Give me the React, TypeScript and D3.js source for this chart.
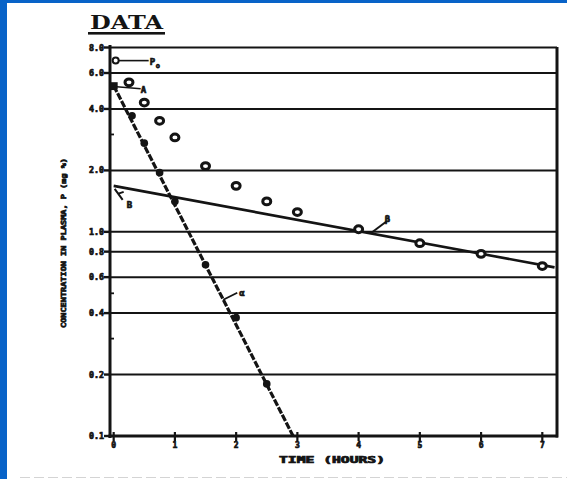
import React from 'react';
import * as d3 from 'd3';

// ---- data ----
const observedTimes = [0.25, 0.5, 0.75, 1, 1.5, 2, 2.5, 3, 4, 5, 6, 7];
const observedConc = [5.4, 4.3, 3.5, 2.9, 2.1, 1.68, 1.41, 1.25, 1.03, 0.88, 0.78, 0.68];
const residualTimes = [0.3, 0.5, 0.75, 1, 1.5, 2, 2.5];
const residualConc = [3.7, 2.72, 1.95, 1.41, 0.69, 0.38, 0.18];
const betaLineTimes = [0, 7.2];
const betaLineConc = [1.68, 0.67];
const alphaLineTimes = [0, 2.93];
const alphaLineConc = [5.2, 0.1];
const interceptP0 = 6.9;
const interceptA = 5.2;
const yTickValues = [8, 6, 4, 2, 1, 0.8, 0.6, 0.4, 0.2, 0.1];
const yTickLabels = ['8.0', '6.0', '4.0', '2.0', '1.0', '0.8', '0.6', '0.4', '0.2', '0.1'];
const yMinorTicks = [5, 3, 0.5, 0.3];
const xTickValues = [0, 1, 2, 3, 4, 5, 6, 7];
const xTickLabels = ['0', '1', '2', '3', '4', '5', '6', '7'];

const W = 567;
const H = 479;
const INK = '#141414';
const FONT = '"DejaVu Sans Mono", "Liberation Mono", monospace';

export default function App() {
  const x = d3.scaleLinear().domain([-0.06, 7.24]).range([110, 557]);
  const y = d3.scaleLog().domain([0.1, 8]).range([436, 47.5]);
  const line = d3
    .line<[number, number]>()
    .x((d) => x(d[0]))
    .y((d) => y(d[1]));

  const betaPts: [number, number][] = betaLineTimes.map((t, i) => [t, betaLineConc[i]]);
  const alphaPts: [number, number][] = alphaLineTimes.map((t, i) => [t, alphaLineConc[i]]);

  const x0 = x(0);
  const yP0 = y(interceptP0);
  const yA = y(interceptA);
  const yB = y(betaLineConc[0]);

  const betaAt = (t: number) => {
    const k = (Math.log10(betaLineConc[1]) - Math.log10(betaLineConc[0])) / (betaLineTimes[1] - betaLineTimes[0]);
    return Math.pow(10, Math.log10(betaLineConc[0]) + k * t);
  };
  const alphaAt = (t: number) => {
    const k = (Math.log10(alphaLineConc[1]) - Math.log10(alphaLineConc[0])) / (alphaLineTimes[1] - alphaLineTimes[0]);
    return Math.pow(10, Math.log10(alphaLineConc[0]) + k * t);
  };
  const betaLabelX = x(4.1);
  const betaLabelY = y(betaAt(4.1));
  const alphaLabelX = x(1.79);
  const alphaLabelY = y(alphaAt(1.79));

  const bold = { stroke: INK, strokeWidth: 0.7 };

  return (
    <svg
      width={W}
      height={H}
      viewBox={`0 0 ${W} ${H}`}
      style={{ position: 'absolute', left: 0, top: 0, background: '#fff' }}
    >
      <rect x={0} y={0} width={W} height={H} fill="#fff" />
      <rect x={0} y={0} width={7} height={H} fill="#0863c8" />
      <rect x={0} y={0} width={W} height={3} fill="#0863c8" />
      <line x1={20} x2={W} y1={477.5} y2={477.5} stroke="#d4d4d4" strokeWidth={1.2} strokeDasharray="10 4" />

      {/* title */}
      <text
        x={90}
        y={29}
        fontFamily='"DejaVu Serif", "Liberation Serif", serif'
        fontWeight="bold"
        fontSize={18}
        fill={INK}
        textLength={73}
        lengthAdjust="spacingAndGlyphs"
      >
        DATA
      </text>
      <rect x={88} y={32} width={77} height={2.6} fill={INK} />

      {/* horizontal grid lines */}
      {yTickValues.map((v) => (
        <line key={'g' + v} x1={110} x2={557} y1={y(v)} y2={y(v)} stroke={INK} strokeWidth={2} />
      ))}

      {/* y tick marks and labels */}
      {yTickValues.map((v, i) => (
        <g key={'yt' + v}>
          <line x1={104} x2={110} y1={y(v)} y2={y(v)} stroke={INK} strokeWidth={2.4} />
          <text
            x={104}
            y={y(v) + 3}
            textAnchor="end"
            fontFamily={FONT}
            fontWeight="bold"
            fontSize={8}
            fill={INK}
            {...bold}
            textLength={15}
            lengthAdjust="spacingAndGlyphs"
          >
            {yTickLabels[i]}
          </text>
        </g>
      ))}
      {yMinorTicks.map((v) => (
        <line key={'ym' + v} x1={110} x2={114} y1={y(v)} y2={y(v)} stroke={INK} strokeWidth={1.8} />
      ))}

      {/* x ticks and labels */}
      {xTickValues.map((v, i) => (
        <g key={'xt' + v}>
          <line x1={x(v)} x2={x(v)} y1={432} y2={441} stroke={INK} strokeWidth={2.2} />
          <text
            x={x(v)}
            y={448}
            textAnchor="middle"
            fontFamily={FONT}
            fontWeight="bold"
            fontSize={8}
            fill={INK}
            {...bold}
          >
            {xTickLabels[i]}
          </text>
        </g>
      ))}

      {/* axes frame */}
      <line x1={110} x2={110} y1={45} y2={438} stroke={INK} strokeWidth={3} />
      <line x1={108.5} x2={558} y1={436} y2={436} stroke={INK} strokeWidth={3} />
      <line x1={557} x2={557} y1={47} y2={437.5} stroke={INK} strokeWidth={3} />

      {/* axis titles */}
      <text
        x={332}
        y={463}
        textAnchor="middle"
        fontFamily={FONT}
        fontWeight="bold"
        fontSize={8}
        fill={INK}
        {...bold}
        textLength={106}
        lengthAdjust="spacingAndGlyphs"
      >
        TIME (HOURS)
      </text>
      <text
        transform="translate(66,243) rotate(-90)"
        textAnchor="middle"
        fontFamily={FONT}
        fontWeight="bold"
        fontSize={7}
        fill={INK}
        {...bold}
        textLength={170}
        lengthAdjust="spacingAndGlyphs"
      >
        CONCENTRATION IN PLASMA, P (mg %)
      </text>

      {/* fitted lines */}
      <path d={line(betaPts) || ''} fill="none" stroke={INK} strokeWidth={2.6} />
      <path d={line(alphaPts) || ''} fill="none" stroke={INK} strokeWidth={3.2} strokeDasharray="7 1.6" />

      {/* residual (filled) points */}
      {residualTimes.map((t, i) => (
        <circle key={'r' + t} cx={x(t)} cy={y(residualConc[i])} r={3.8} fill={INK} />
      ))}

      {/* observed (open) points */}
      {observedTimes.map((t, i) => (
        <ellipse
          key={'o' + t}
          cx={x(t)}
          cy={y(observedConc[i])}
          rx={4}
          ry={3.4}
          fill="#fff"
          stroke={INK}
          strokeWidth={3}
        />
      ))}

      {/* P0 intercept annotation */}
      <circle cx={x0 + 2} cy={yP0} r={3} fill="#fff" stroke={INK} strokeWidth={2} />
      <line x1={x0 + 5} x2={x0 + 35} y1={yP0} y2={yP0} stroke={INK} strokeWidth={1.6} />
      <text x={x0 + 36} y={yP0 + 4} fontFamily={FONT} fontWeight="bold" fontSize={9} fill={INK} {...bold}>
        P
      </text>
      <text x={x0 + 42} y={yP0 + 7} fontFamily={FONT} fontWeight="bold" fontSize={7} fill={INK} {...bold}>
        o
      </text>

      {/* A intercept annotation */}
      <rect x={x0 - 3} y={yA - 3.5} width={7} height={7} fill={INK} />
      <line x1={x0 + 3} x2={x0 + 27} y1={yA + 1} y2={yA + 3} stroke={INK} strokeWidth={1.6} />
      <text x={x0 + 27} y={yA + 7} fontFamily={FONT} fontWeight="bold" fontSize={9} fill={INK} {...bold}>
        A
      </text>

      {/* B intercept annotation */}
      <path
        d={`M${x0 + 1},${yB + 3} L${x0 + 9},${yB + 14} M${x0 + 4},${yB + 8} L${x0 + 10},${yB + 6}`}
        fill="none"
        stroke={INK}
        strokeWidth={2}
      />
      <text x={x0 + 13} y={yB + 22} fontFamily={FONT} fontWeight="bold" fontSize={9} fill={INK} {...bold}>
        B
      </text>

      {/* beta line annotation */}
      <line
        x1={betaLabelX + 6}
        y1={betaLabelY + 1}
        x2={betaLabelX + 22}
        y2={betaLabelY - 11}
        stroke={INK}
        strokeWidth={2}
      />
      <text x={betaLabelX + 20} y={betaLabelY - 10} fontFamily={FONT} fontWeight="bold" fontSize={9} fill={INK} {...bold}>
        β
      </text>

      {/* alpha line annotation */}
      <line
        x1={alphaLabelX}
        y1={alphaLabelY}
        x2={alphaLabelX + 14}
        y2={alphaLabelY - 7}
        stroke={INK}
        strokeWidth={1.8}
      />
      <text x={alphaLabelX + 16} y={alphaLabelY - 4} fontFamily={FONT} fontWeight="bold" fontSize={9} fill={INK} {...bold}>
        α
      </text>
    </svg>
  );
}
